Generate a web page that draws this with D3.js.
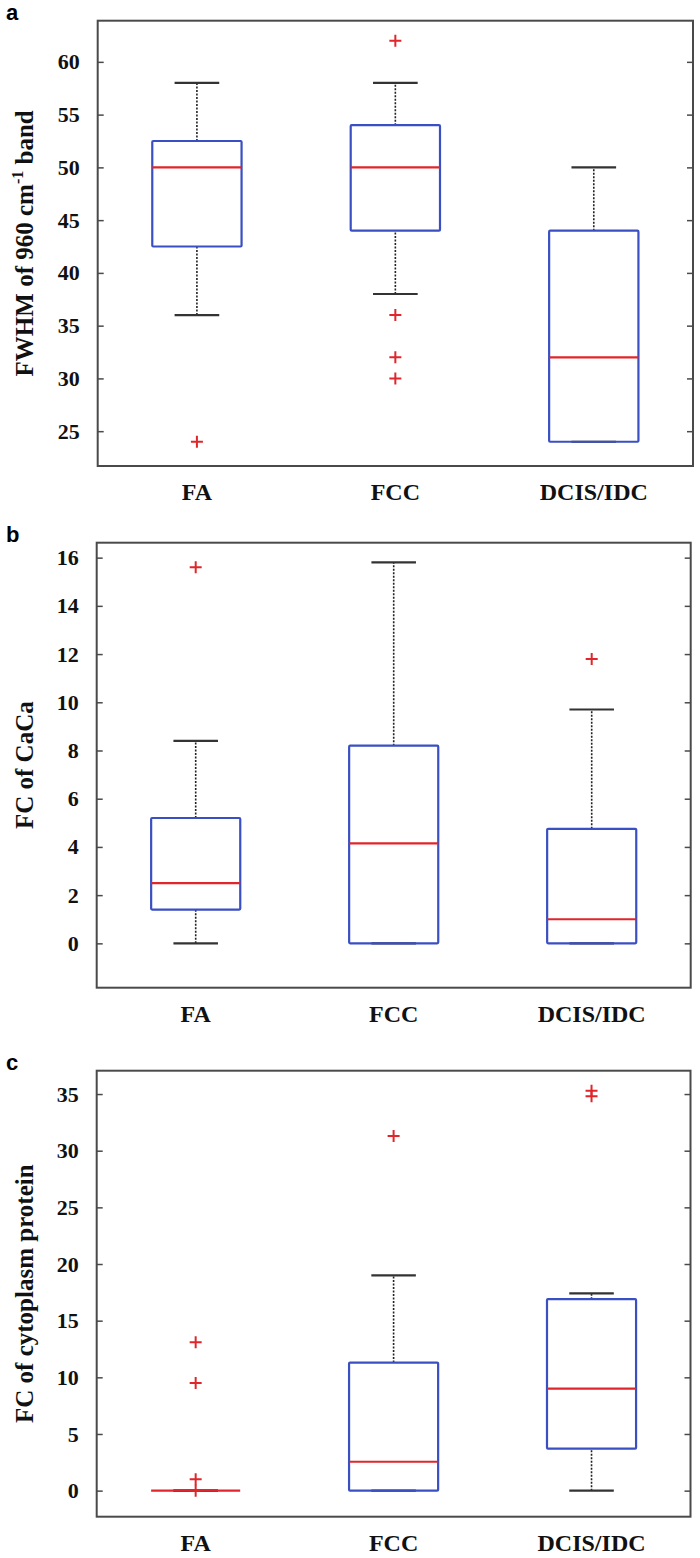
<!DOCTYPE html>
<html><head><meta charset="utf-8">
<script src="https://cdn.jsdelivr.net/npm/d3@7"></script>
<style>body{margin:0;background:#fff}</style></head>
<body>
<svg id="chart" width="700" height="1558"></svg>
<script>
// ---------- DATA ----------
const categories = ["FA", "FCC", "DCIS/IDC"];

// Panel a: FWHM of 960 cm-1 band
const fwhmLowerWhisker = [36, 38, 24];
const fwhmQ1 = [42.5, 44, 24];
const fwhmMedian = [50, 50, 32];
const fwhmQ3 = [52.5, 54, 44];
const fwhmUpperWhisker = [58, 58, 50];
const fwhmOutliers = [[24], [62, 36, 32, 30], []];
const fwhmTicks = [25, 30, 35, 40, 45, 50, 55, 60];
const fwhmLimits = [21.7, 63.9];

// Panel b: FC of CaCa
const cacaLowerWhisker = [0, 0, 0];
const cacaQ1 = [1.4, 0, 0];
const cacaMedian = [2.5, 4.15, 1.0];
const cacaQ3 = [5.2, 8.2, 4.75];
const cacaUpperWhisker = [8.4, 15.8, 9.7];
const cacaOutliers = [[15.6], [], [11.8]];
const cacaTicks = [0, 2, 4, 6, 8, 10, 12, 14, 16];
const cacaLimits = [-1.84, 16.62];

// Panel c: FC of cytoplasm protein
const protLowerWhisker = [0, 0, 0];
const protQ1 = [0, 0, 3.7];
const protMedian = [0, 2.55, 9.0];
const protQ3 = [0, 11.3, 16.9];
const protUpperWhisker = [0, 19, 17.4];
const protOutliers = [[13.1, 9.5, 1.0, 0], [31.3], [35.3, 34.8]];
const protTicks = [0, 5, 10, 15, 20, 25, 30, 35];
const protLimits = [-2.3, 37.06];

// ---------- LAYOUT ----------
const svg = d3.select("#chart");
const serif = "'Liberation Serif','Times New Roman',serif";
const sans = "'Liberation Sans',Arial,sans-serif";
const BLUE = "#3a4fc2", RED = "#e0262a", FRAME = "#4a4a4a";

const panels = [
  {letter: "a", left: 97.7, right: 693, top: 20.7, bottom: 466,
   lo: fwhmLowerWhisker, q1: fwhmQ1, med: fwhmMedian, q3: fwhmQ3, hi: fwhmUpperWhisker,
   out: fwhmOutliers, ticks: fwhmTicks, limits: fwhmLimits,
   title: [{t: "FWHM of 960 cm"}, {t: "-1", sup: true}, {t: " band"}]},
  {letter: "b", left: 96.7, right: 690.7, top: 542.7, bottom: 987.7,
   lo: cacaLowerWhisker, q1: cacaQ1, med: cacaMedian, q3: cacaQ3, hi: cacaUpperWhisker,
   out: cacaOutliers, ticks: cacaTicks, limits: cacaLimits,
   title: [{t: "FC of CaCa"}]},
  {letter: "c", left: 96.7, right: 690.5, top: 1070.7, bottom: 1516.7,
   lo: protLowerWhisker, q1: protQ1, med: protMedian, q3: protQ3, hi: protUpperWhisker,
   out: protOutliers, ticks: protTicks, limits: protLimits,
   title: [{t: "FC of cytoplasm protein"}]}
];

panels.forEach(p => {
  const g = svg.append("g");
  const x = d3.scaleBand().domain(categories).range([p.left, p.right]).paddingInner(0).paddingOuter(0);
  const y = d3.scaleLinear().domain(p.limits).range([p.bottom, p.top]);
  const step = x.step();
  const boxW = step * 0.45, capW = boxW * 0.5;
  const cx = c => x(c) + step / 2;

  // axes (inward ticks, both sides)
  const yl = g.append("g").attr("transform", `translate(${p.left},0)`)
    .call(d3.axisLeft(y).tickValues(p.ticks).tickSize(-6).tickPadding(18).tickFormat(d3.format("d")));
  yl.select(".domain").remove();
  yl.selectAll("line").attr("stroke", FRAME).attr("stroke-width", 1.5);
  yl.selectAll("text").attr("font-family", serif).attr("font-weight", "bold")
    .attr("font-size", 22).attr("fill", "#111");
  const yr = g.append("g").attr("transform", `translate(${p.right},0)`)
    .call(d3.axisRight(y).tickValues(p.ticks).tickSize(-6).tickFormat(""));
  yr.select(".domain").remove();
  yr.selectAll("line").attr("stroke", FRAME).attr("stroke-width", 1.5);

  // frame
  g.append("rect").attr("x", p.left).attr("y", p.top)
    .attr("width", p.right - p.left).attr("height", p.bottom - p.top)
    .attr("fill", "none").attr("stroke", FRAME).attr("stroke-width", 2);

  // x labels
  g.selectAll(".xl").data(categories).join("text")
    .attr("x", d => cx(d)).attr("y", p.bottom + 34)
    .attr("text-anchor", "middle").attr("font-family", serif).attr("font-weight", "bold")
    .attr("font-size", 24).attr("fill", "#111").text(d => d);

  // y title
  const ty = (p.top + p.bottom) / 2;
  const tt = g.append("text").attr("transform", `translate(33,${ty}) rotate(-90)`)
    .attr("text-anchor", "middle").attr("font-family", serif).attr("font-weight", "bold")
    .attr("font-size", 25).attr("fill", "#111");
  p.title.forEach((s, i) => {
    const ts = tt.append("tspan").text(s.t);
    if (s.sup) ts.attr("font-size", 16).attr("dy", -10);
    else if (i > 0 && p.title[i - 1].sup) ts.attr("dy", 10);
  });

  // panel letter
  svg.append("text").attr("x", 6).attr("y", p.top - 1)
    .attr("font-family", sans).attr("font-weight", "bold").attr("font-size", 22)
    .attr("fill", "#000").text(p.letter);

  categories.forEach((c, i) => {
    const xc = cx(c);
    // whiskers (dotted)
    [[p.q3[i], p.hi[i]], [p.lo[i], p.q1[i]]].forEach(([a, b]) => {
      if (a !== b) g.append("line").attr("x1", xc).attr("x2", xc)
        .attr("y1", y(a)).attr("y2", y(b))
        .attr("stroke", "#222").attr("stroke-width", 1.6).attr("stroke-dasharray", "2,1.5");
    });
    // caps
    [p.lo[i], p.hi[i]].forEach(v => {
      g.append("line").attr("x1", xc - capW / 2).attr("x2", xc + capW / 2)
        .attr("y1", y(v)).attr("y2", y(v)).attr("stroke", "#333").attr("stroke-width", 2.2);
    });
    // box
    g.append("rect").attr("x", xc - boxW / 2).attr("y", y(p.q3[i]))
      .attr("width", boxW).attr("height", Math.max(0, y(p.q1[i]) - y(p.q3[i])))
      .attr("fill", "none").attr("stroke", BLUE).attr("stroke-width", 2.2).attr("rx", 1);
    // median
    g.append("line").attr("x1", xc - boxW / 2).attr("x2", xc + boxW / 2)
      .attr("y1", y(p.med[i])).attr("y2", y(p.med[i]))
      .attr("stroke", RED).attr("stroke-width", 2.2);
    // outliers
    p.out[i].forEach(v => {
      const yy = y(v);
      g.append("path").attr("d", `M${xc - 6},${yy}H${xc + 6}M${xc},${yy - 6}V${yy + 6}`)
        .attr("stroke", RED).attr("stroke-width", 2).attr("fill", "none");
    });
  });
});
</script>
</body></html>
